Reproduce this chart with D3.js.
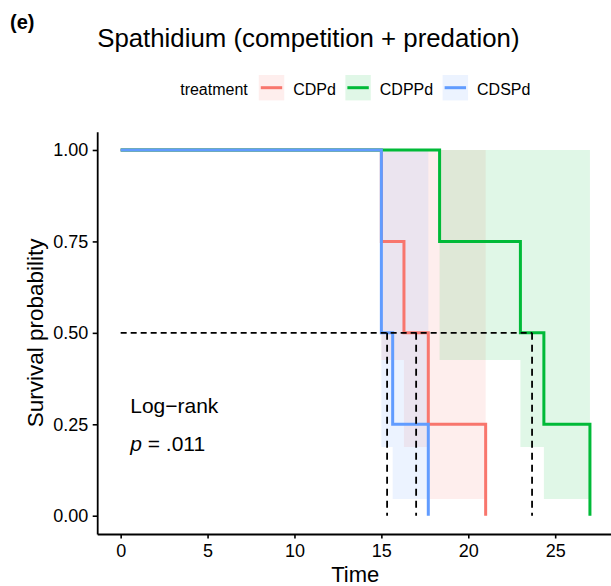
<!DOCTYPE html>
<meta charset="utf-8">
<style>
body { margin: 0; background: #fff; }
svg { font-family: "Liberation Sans", Arial, Helvetica, sans-serif; }
.axis path, .axis line { stroke: #000; }
.axis text { font-size: 18px; fill: #000; }
</style>
<svg width="611" height="586"></svg>
<script src="https://cdn.jsdelivr.net/npm/d3@7"></script>
<script>

// treatments, in drawing order
var treatments = ["CDPd", "CDPPd", "CDSPd"];
var colors = ["#F8766D", "#00BA38", "#619CFF"];

// step times (first entry = start), survival after each step
var times = [
  [0, 15.0, 16.3, 17.7, 21.0],
  [0, 18.35, 23.0, 24.35, 27.0],
  [0, 15.0, 15.65, 17.7]
];
var surv = [
  [1, 0.75, 0.5, 0.25, 0],
  [1, 0.75, 0.5, 0.25, 0],
  [1, 0.5, 0.25, 0]
];
// confidence band after each step
var lower = [
  [1, 0.426, 0.188, 0.046],
  [1, 0.426, 0.188, 0.046],
  [1, 0.188, 0.046]
];
var upper = [
  [1, 1, 1, 1],
  [1, 1, 1, 1],
  [1, 1, 1]
];
var medians = [17.0, 23.67, 15.33];

var xTicks = [0, 5, 10, 15, 20, 25];
var yTicks = [0, 0.25, 0.5, 0.75, 1];

var svg = d3.select("svg");
var pLeft = 97.2, pRight = 613.4, pTop = 131.7, pBottom = 534;

var x = d3.scaleLinear().domain([-1.35, 28.35]).range([pLeft, pRight]);
var y = d3.scaleLinear().domain([-0.05, 1.05]).range([pBottom, pTop]);

// ribbons
var area = d3.area()
    .curve(d3.curveStepAfter)
    .x(function(d) { return x(d.t); })
    .y0(function(d) { return y(d.lo); })
    .y1(function(d) { return y(d.hi); });

treatments.forEach(function(tr, k) {
  var pts = [];
  for (var i = 1; i < times[k].length - 1; i++) {
    pts.push({t: times[k][i], lo: lower[k][i], hi: upper[k][i]});
  }
  var n = times[k].length - 1;
  pts.push({t: times[k][n], lo: lower[k][n - 1], hi: upper[k][n - 1]});
  svg.append("path")
      .datum(pts)
      .attr("d", area)
      .attr("fill", colors[k])
      .attr("fill-opacity", 0.12);
});

// survival curves
var line = d3.line()
    .curve(d3.curveStepAfter)
    .x(function(d) { return x(d[0]); })
    .y(function(d) { return y(d[1]); });

treatments.forEach(function(tr, k) {
  svg.append("path")
      .datum(d3.zip(times[k], surv[k]))
      .attr("d", line)
      .attr("fill", "none")
      .attr("stroke", colors[k])
      .attr("stroke-width", 3);
});

// median lines
svg.append("line")
    .attr("x1", x(0)).attr("x2", x(d3.max(medians)))
    .attr("y1", y(0.5)).attr("y2", y(0.5))
    .attr("stroke", "#000").attr("stroke-width", 1.8)
    .attr("stroke-dasharray", "6,4");

svg.selectAll(".med")
  .data(medians)
  .enter().append("line")
    .attr("class", "med")
    .attr("x1", function(d) { return x(d); })
    .attr("x2", function(d) { return x(d); })
    .attr("y1", y(0.5)).attr("y2", y(0))
    .attr("stroke", "#000").attr("stroke-width", 1.8)
    .attr("stroke-dasharray", "7,5");

// axes
svg.append("g")
    .attr("class", "axis")
    .attr("transform", "translate(0," + pBottom + ")")
    .call(d3.axisBottom(x).tickValues(xTicks).tickSize(4.5).tickSizeOuter(0).tickPadding(6)
      .tickFormat(d3.format("d")));
svg.append("g")
    .attr("class", "axis")
    .attr("transform", "translate(" + pLeft + ",0)")
    .call(d3.axisLeft(y).tickValues(yTicks).tickSize(4.5).tickSizeOuter(0).tickPadding(4.5)
      .tickFormat(d3.format(".2f")));
svg.selectAll(".axis path").attr("stroke-width", 1.8);
svg.selectAll(".axis line").attr("stroke-width", 1.6);

// titles
svg.append("text")
    .attr("x", 10).attr("y", 29)
    .attr("font-size", 20).attr("font-weight", "bold")
    .text("(e)");

svg.append("text")
    .attr("x", pLeft).attr("y", 47.3)
    .attr("font-size", 25.8)
    .text("Spathidium (competition + predation)");

svg.append("text")
    .attr("x", (pLeft + pRight) / 2).attr("y", 582)
    .attr("text-anchor", "middle")
    .attr("font-size", 22)
    .text("Time");

svg.append("text")
    .attr("transform", "translate(42.5," + ((pTop + pBottom) / 2) + ") rotate(-90)")
    .attr("text-anchor", "middle")
    .attr("font-size", 22.5)
    .text("Survival probability");

// log-rank annotation
svg.append("text")
    .attr("x", x(0.55)).attr("y", y(0.28))
    .attr("font-size", 21)
    .text("Log\u2212rank");

var pt = svg.append("text")
    .attr("x", x(0.55)).attr("y", y(0.178))
    .attr("font-size", 21);
pt.append("tspan").attr("font-style", "italic").text("p");
pt.append("tspan").text(" = .011");

// legend
var legend = svg.append("g");
var lx = 0;
var lt = legend.append("text")
    .attr("x", lx).attr("y", 95)
    .attr("font-size", 16)
    .text("treatment");
lx += lt.node().getComputedTextLength() + 11;

treatments.forEach(function(tr, k) {
  legend.append("rect")
      .attr("x", lx).attr("y", 75)
      .attr("width", 25.4).attr("height", 25.4)
      .attr("fill", colors[k]).attr("fill-opacity", 0.12);
  legend.append("line")
      .attr("x1", lx + 2).attr("x2", lx + 23.4)
      .attr("y1", 87.7).attr("y2", 87.7)
      .attr("stroke", colors[k]).attr("stroke-width", 3);
  var t = legend.append("text")
      .attr("x", lx + 34.4).attr("y", 95)
      .attr("font-size", 16)
      .text(tr);
  lx += 34.4 + t.node().getComputedTextLength() + 9.5;
});
lx -= 9.5;
legend.attr("transform", "translate(" + ((pLeft + pRight) / 2 - lx / 2) + ",0)");

</script>
